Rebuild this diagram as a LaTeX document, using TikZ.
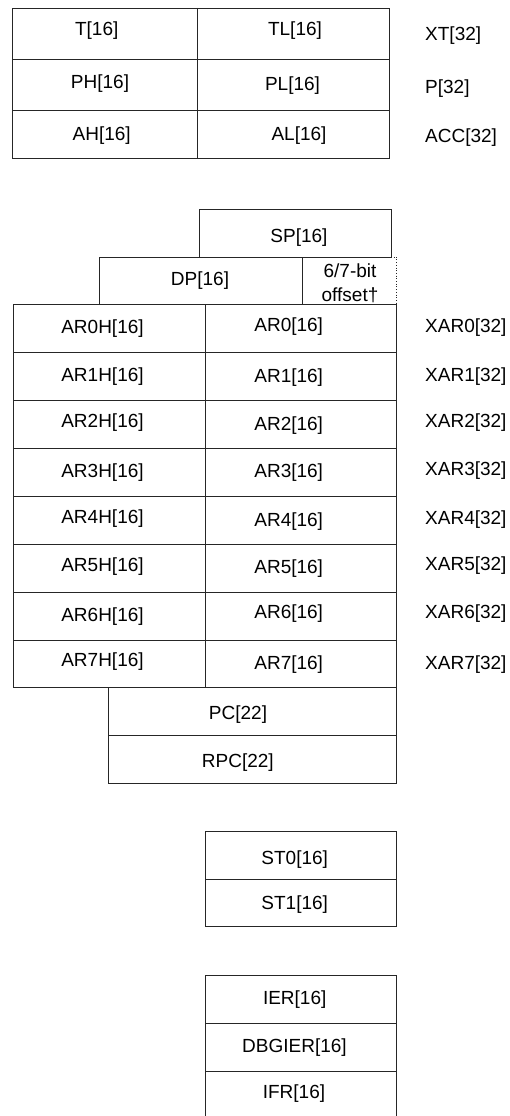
\documentclass[tikz,border=0pt]{standalone}
\usepackage{fontspec}
\setmainfont{Liberation Sans}

\tikzset{
  regline/.style={draw=black!85, line width=0.9pt},
  regtext/.style={inner sep=0pt, yshift=-2.5pt, font=\fontsize{19}{24}\selectfont},
  regname/.style={regtext, anchor=west},
}

\begin{document}
\begin{tikzpicture}[x=1pt,y=-1pt]
\useasboundingbox (0,0) rectangle (509,1116);
% XT, P and ACC
\draw[regline] (12,8) rectangle (389.5,158);
\draw[regline] (197.5,8) -- (197.5,158);
\draw[regline] (12,59) -- (389.5,59);
\draw[regline] (12,110.3) -- (389.5,110.3);
\node[regtext] (t) at (96.7,28) {T[16]};
\node[regtext] (tl) at (295,28) {TL[16]};
\node[regtext] (ph) at (100,81) {PH[16]};
\node[regtext] (pl) at (292.5,83) {PL[16]};
\node[regtext] (ah) at (101.7,133) {AH[16]};
\node[regtext] (al) at (299,133) {AL[16]};
\node[regname] (xt) at (425,33) {XT[32]};
\node[regname] (p) at (425,86) {P[32]};
\node[regname] (acc) at (425,135) {ACC[32]};

% SP, DP
\draw[regline] (199,209) rectangle (391,257);
\draw[regline] (99,304.5) |- (302,257.5) -- (302,304.5);
\draw[regline, line width=0.7pt, dotted] (391,257) -| (396.7,304.5);
\node[regtext] (sp) at (299,235) {SP[16]};
\node[regtext] (dp) at (200,278) {DP[16]};
\node[regtext, align=center] (offset) at (350,281) {6/7-bit\\offset†};

% auxiliary registers
\draw[regline] (13,304.5) rectangle (396.7,687.7);
\draw[regline] (205,304.5) -- (205,687.7);
\foreach \y in {352.3,400,448,496,544,592,640}
  \draw[regline] (13,\y) -- (396.7,\y);
\foreach \i/\yh/\yl/\yx in {0/326/324/325, 1/374/375/374, 2/420/423/420,
    3/470/470/468, 4/516/519/517, 5/564/566/563, 6/614/611/611, 7/659/662/662}
{
  \node[regtext] (arh\i) at (102.5,\yh) {AR\i H[16]};
  \node[regtext] (ar\i) at (288.7,\yl) {AR\i[16]};
  \node[regname] (xar\i) at (425,\yx) {XAR\i[32]};
}

% PC, RPC
\draw[regline] (108.7,687.7) rectangle (396.7,783);
\draw[regline] (108.7,735.7) -- (396.7,735.7);
\node[regtext] (pc) at (238,712) {PC[22]};
\node[regtext] (rpc) at (237.8,760) {RPC[22]};

% status registers
\draw[regline] (205,831.7) rectangle (396.7,926.7);
\draw[regline] (205,879) -- (396.7,879);
\node[regtext] (st0) at (294.7,856.7) {ST0[16]};
\node[regtext] (st1) at (294.7,901.7) {ST1[16]};

% interrupt registers
\draw[regline] (205,1116) |- (396.7,975.7) -- (396.7,1116);
\draw[regline] (205,1023.3) -- (396.7,1023.3);
\draw[regline] (205,1071) -- (396.7,1071);
\node[regtext] (ier) at (294.7,996.7) {IER[16]};
\node[regtext] (dbgier) at (294.5,1045) {DBGIER[16]};
\node[regtext] (ifr) at (294,1090.7) {IFR[16]};
\end{tikzpicture}
\end{document}
